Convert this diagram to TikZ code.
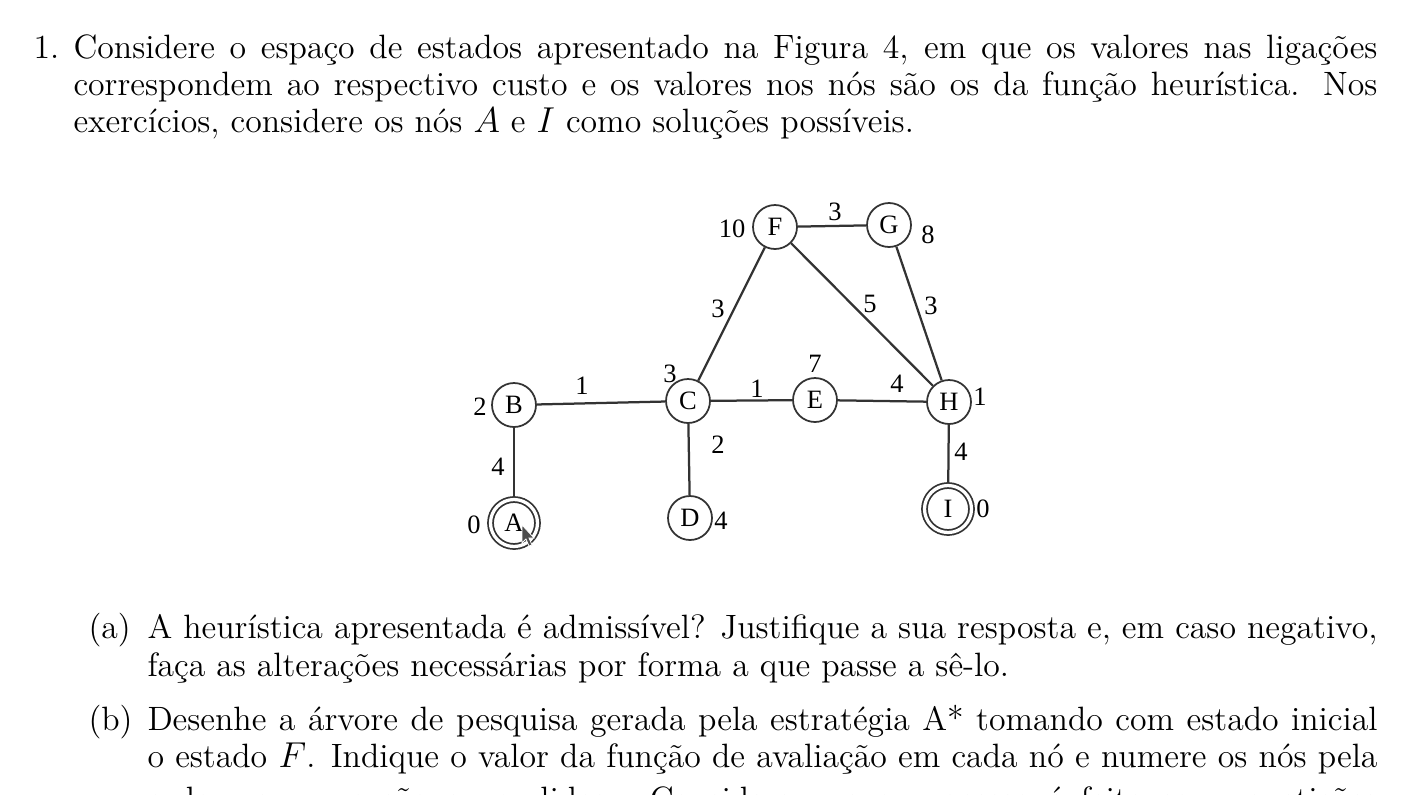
\documentclass[tikz,border=0pt]{standalone}
\usepackage{fontspec}
\newfontfamily\figfont{Liberation Serif}
\usepackage{tikz}
\usetikzlibrary{positioning}

\begin{document}
\begin{tikzpicture}[x=0.4pt, y=-0.4pt]
    \tikzstyle{state}=[circle, draw=black!80, line width=0.7pt,
            minimum size=17.6pt, inner sep=0pt,
            font=\figfont\fontsize{10.6}{12}\selectfont]
    \tikzstyle{goal}=[state, double, double distance=1.3pt,
            minimum size=18.8pt, outer sep=1.3pt]
    \tikzstyle{link}=[black!80, line width=0.9pt]
    \tikzstyle{cost}=[inner sep=0pt, font=\figfont\fontsize{10.6}{12}\selectfont]
    \tikzstyle{textline}=[anchor=base west, inner sep=0pt,
            font=\fontsize{13.5}{16}\selectfont]

        \useasboundingbox (0,0) rectangle (1427,794);

        % enunciado
        \node[textline] (n1) at (33,58) {1.};
        \node[textline] (l1) at (73,58) {\makebox[521.6pt][s]{Considere o espaço de estados apresentado na Figura 4, em que os valores nas ligações}};
        \node[textline] (l2) at (73,95) {\makebox[521.6pt][s]{correspondem ao respectivo custo e os valores nos nós são os da função heurística. Nos}};
        \node[textline] (l3) at (73,132) {exercícios, considere os nós $A$ e $I$ como soluções possíveis.};

        % grafo
        \foreach \n/\x/\y in {F/775/227, G/889/225, B/514/405, C/688/401,
                              E/815/400, H/949/402, D/690/518}
        {
            \node[state] (\n) at (\x,\y) {\n};
        }
        \node[goal] (A) at (514,523) {A};
        \node[goal] (I) at (948,509) {I};

        \foreach \a/\b/\w/\x/\y in {F/G/3/835/212, C/F/3/718/309,
                                    F/H/5/870/304, G/H/3/931/306,
                                    B/C/1/582/386, C/E/1/757/389,
                                    E/H/4/897/384, B/A/4/498/467,
                                    C/D/2/718/445, H/I/4/961/452}
        {
            \draw[link] (\a) -- (\b);
            \node[cost] (w\a\b) at (\x,\y) {\w};
        }

        \foreach \n/\v/\x/\y in {F/10/732/229, G/8/928/235, B/2/480/407,
                                 C/3/670/374, E/7/815/364, H/1/980/397,
                                 A/0/474/525, D/4/721/521, I/0/983/509}
        {
            \node[cost] (h\n) at (\x,\y) {\v};
        }

        % cursor
        \fill[black!70, draw=white, line width=0.3pt]
            (522,525) -- (522,543) -- (526,539) -- (529,546) -- (532,545)
            -- (529,538) -- (534,538) -- cycle;

        % alineas
        \node[textline] (na) at (88,638) {(a)};
        \node[textline] (a1) at (147,638) {\makebox[492pt][s]{A heurística apresentada é admissível? Justifique a sua resposta e, em caso negativo,}};
        \node[textline] (a2) at (147,676) {faça as alterações necessárias por forma a que passe a sê-lo.};
        \node[textline] (nb) at (88,730) {(b)};
        \node[textline] (b1) at (147,730) {\makebox[492pt][s]{Desenhe a árvore de pesquisa gerada pela estratégia A* tomando com estado inicial}};
        \node[textline] (b2) at (147,767) {\makebox[492pt][s]{o estado $F$. Indique o valor da função de avaliação em cada nó e numere os nós pela}};
        \node[textline] (b3) at (147,810) {\makebox[492pt][s]{ordem em que são expandidos. Considere que o processo é feito sem repetições}};
    \end{tikzpicture}
\end{document}
